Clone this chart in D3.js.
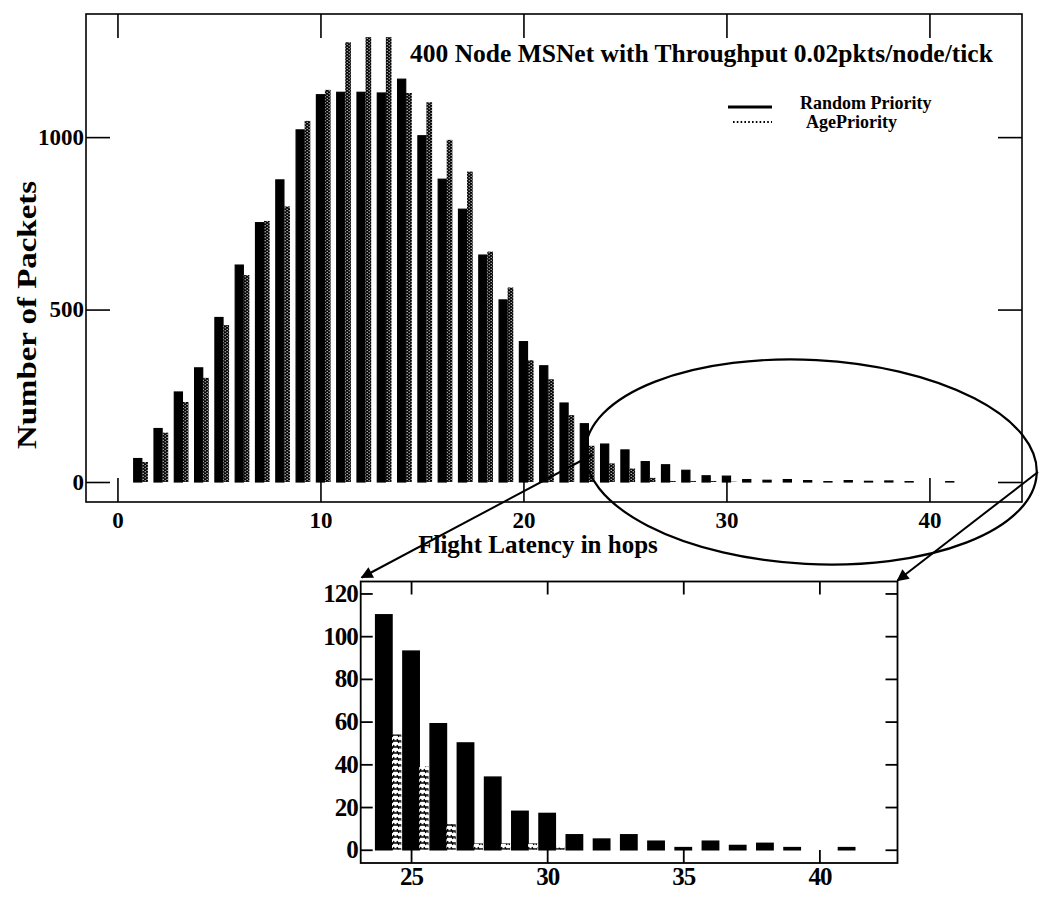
<!DOCTYPE html>
<html>
<head>
<meta charset="utf-8">
<script src="https://cdn.jsdelivr.net/npm/d3@7"></script>
<style>
  body { margin: 0; background: #fff; }
  svg { display: block; }
  text { font-family: "Liberation Serif", "Times New Roman", serif; font-weight: bold; fill: #000; }
</style>
</head>
<body>
<svg id="chart" width="1041" height="902"></svg>
<script>
// flight latency (hops) and packet counts per priority scheme
const hops = [1, 2, 3, 4, 5, 6, 7, 8, 9, 10, 11, 12, 13, 14, 15, 16, 17, 18, 19, 20,
  21, 22, 23, 24, 25, 26, 27, 28, 29, 30, 31, 32, 33, 34, 35, 36, 37, 38, 39, 40, 41];
const randomPriority = [68, 155, 261, 331, 477, 629, 752, 876, 1021, 1123, 1130, 1130, 1128, 1168, 1004, 878, 791, 658, 528, 407,
  337, 229, 169, 110, 93, 59, 50, 34, 18, 17, 7, 5, 7, 4, 1, 4, 2, 3, 1, 0, 1];
const agePriority = [58, 143, 232, 302, 455, 600, 757, 799, 1047, 1137, 1275, 1290, 1290, 1128, 1101, 992, 900, 668, 564, 353,
  298, 194, 105, 54, 39, 12, 3, 3, 3, 1, 0, 0, 0, 0, 0, 0, 0, 0, 0, 0, 0];

const mainXTicks = [0, 10, 20, 30, 40];
const mainYTicks = [0, 500, 1000];
const zoomFrom = 24;
const insetXTicks = [25, 30, 35, 40];
const insetYTicks = [0, 20, 40, 60, 80, 100, 120];

const rows = hops.map((h, i) => ({ hop: h, rnd: randomPriority[i], age: agePriority[i] }));

const svg = d3.select("#chart");

// patterns for the "AgePriority" bars
const defs = svg.append("defs");
const p1 = defs.append("pattern").attr("id", "ageMain")
  .attr("patternUnits", "userSpaceOnUse").attr("width", 4).attr("height", 3);
p1.append("rect").attr("width", 4).attr("height", 3).attr("fill", "#000");
p1.append("rect").attr("x", 0.6).attr("y", 0.3).attr("width", 1.2).attr("height", 1).attr("fill", "#fff");
p1.append("rect").attr("x", 2.6).attr("y", 1.8).attr("width", 1.2).attr("height", 1).attr("fill", "#fff");

const p2 = defs.append("pattern").attr("id", "ageInset")
  .attr("patternUnits", "userSpaceOnUse").attr("width", 9).attr("height", 6);
p2.append("rect").attr("width", 9).attr("height", 6).attr("fill", "#fff");
p2.append("path").attr("d", "M1,1 L3,5 M7,1 L5,5 M0,3 L9,3")
  .attr("stroke", "#000").attr("stroke-width", 1.4).attr("fill", "none");

defs.append("marker").attr("id", "arrow")
  .attr("viewBox", "0 0 10 10").attr("refX", 9).attr("refY", 5)
  .attr("markerWidth", 8).attr("markerHeight", 6).attr("orient", "auto")
  .attr("markerUnits", "strokeWidth")
  .append("path").attr("d", "M0,0 L10,5 L0,10 Z").attr("fill", "#000");

// ---------- main chart ----------
const M = { left: 86, right: 1022, top: 14, bottom: 502 };
const x = d3.scaleLinear().domain([-1.55, 44.56]).range([M.left, M.right]);
const y = d3.scaleLinear().domain([-58, 1357]).range([M.bottom, M.top]);

const main = svg.append("g");

main.selectAll(".rnd").data(rows).enter().append("rect")
  .attr("class", "rnd")
  .attr("x", d => x(d.hop - 0.2))
  .attr("width", x(0.4) - x(0))
  .attr("y", d => y(d.rnd))
  .attr("height", d => y(0) - y(d.rnd))
  .attr("fill", "#000").attr("stroke", "#000").attr("stroke-width", d => d.rnd > 0 ? 1.2 : 0);

main.selectAll(".age").data(rows.filter(d => d.age > 0)).enter().append("rect")
  .attr("class", "age")
  .attr("x", d => x(d.hop + 0.22))
  .attr("width", x(0.28) - x(0))
  .attr("y", d => y(d.age))
  .attr("height", d => y(0) - y(d.age))
  .attr("fill", "url(#ageMain)");

main.append("rect")
  .attr("x", M.left).attr("y", M.top)
  .attr("width", M.right - M.left).attr("height", M.bottom - M.top)
  .attr("fill", "none").attr("stroke", "#000").attr("stroke-width", 1.6);

const axB = main.append("g").attr("transform", `translate(0,${M.bottom})`)
  .call(d3.axisBottom(x).tickValues(mainXTicks).tickSize(-24).tickPadding(10).tickFormat(d3.format("d")));
const axT = main.append("g").attr("transform", `translate(0,${M.top})`)
  .call(d3.axisTop(x).tickValues(mainXTicks).tickSize(-24).tickFormat(""));
const axL = main.append("g").attr("transform", `translate(${M.left},0)`)
  .call(d3.axisLeft(y).tickValues(mainYTicks).tickSize(-24).tickPadding(2).tickFormat(d3.format("d")));
const axR = main.append("g").attr("transform", `translate(${M.right},0)`)
  .call(d3.axisRight(y).tickValues(mainYTicks).tickSize(-24).tickFormat(""));

[axB, axT, axL, axR].forEach(a => {
  a.select(".domain").remove();
  a.selectAll(".tick line").attr("stroke", "#000").attr("stroke-width", 1.6);
  a.selectAll("text").style("font-size", "23px").style("font-family", "Liberation Serif, serif")
    .style("font-weight", "bold").attr("fill", "#000");
});

main.append("text")
  .attr("x", 410).attr("y", 62)
  .style("font-size", "25.5px")
  .text("400 Node MSNet with Throughput 0.02pkts/node/tick");

main.append("text")
  .attr("transform", "translate(36,315) rotate(-90)")
  .attr("text-anchor", "middle")
  .attr("textLength", 268).attr("lengthAdjust", "spacingAndGlyphs")
  .style("font-size", "28px")
  .text("Number of Packets");

main.append("text")
  .attr("x", 538).attr("y", 553)
  .attr("text-anchor", "middle")
  .style("font-size", "25px")
  .text("Flight Latency in hops");

// legend
main.append("line").attr("x1", 728).attr("x2", 772).attr("y1", 107).attr("y2", 107)
  .attr("stroke", "#000").attr("stroke-width", 3);
main.append("line").attr("x1", 733).attr("x2", 772).attr("y1", 122).attr("y2", 122)
  .attr("stroke", "#000").attr("stroke-width", 2).attr("stroke-dasharray", "1.6,2.2");
main.append("text").attr("x", 800).attr("y", 109).style("font-size", "18px").text("Random Priority");
main.append("text").attr("x", 806).attr("y", 128).style("font-size", "18px").text("AgePriority");

// ---------- inset (zoom on the tail) ----------
const I = { left: 360.7, right: 897.5, top: 581.5, bottom: 863 };
const ix = d3.scaleLinear().domain([23.15, 42.87]).range([I.left, I.right]);
const iy = d3.scaleLinear().domain([-6.2, 125.6]).range([I.bottom, I.top]);
const tail = rows.filter(d => d.hop >= zoomFrom);

const inset = svg.append("g");

inset.selectAll(".rnd").data(tail.filter(d => d.rnd > 0)).enter().append("rect")
  .attr("x", d => ix(d.hop - 0.3))
  .attr("width", ix(0.6) - ix(0))
  .attr("y", d => iy(d.rnd))
  .attr("height", d => iy(0) - iy(d.rnd))
  .attr("fill", "#000").attr("stroke", "#000").attr("stroke-width", 1.5);

inset.selectAll(".age").data(tail.filter(d => d.age > 0)).enter().append("rect")
  .attr("x", d => ix(d.hop + 0.3))
  .attr("width", ix(0.34) - ix(0))
  .attr("y", d => iy(d.age))
  .attr("height", d => iy(0) - iy(d.age))
  .attr("fill", "url(#ageInset)");

inset.append("rect")
  .attr("x", I.left).attr("y", I.top)
  .attr("width", I.right - I.left).attr("height", I.bottom - I.top)
  .attr("fill", "none").attr("stroke", "#000").attr("stroke-width", 1.8);

const ibB = inset.append("g").attr("transform", `translate(0,${I.bottom})`)
  .call(d3.axisBottom(ix).tickValues(insetXTicks).tickSize(-13).tickPadding(4));
const ibT = inset.append("g").attr("transform", `translate(0,${I.top})`)
  .call(d3.axisTop(ix).tickValues(insetXTicks).tickSize(-13).tickFormat(""));
const ibL = inset.append("g").attr("transform", `translate(${I.left},0)`)
  .call(d3.axisLeft(iy).tickValues(insetYTicks).tickSize(-12).tickPadding(3));
const ibR = inset.append("g").attr("transform", `translate(${I.right},0)`)
  .call(d3.axisRight(iy).tickValues(insetYTicks).tickSize(-12).tickFormat(""));

[ibB, ibT, ibL, ibR].forEach(a => {
  a.select(".domain").remove();
  a.selectAll(".tick line").attr("stroke", "#000").attr("stroke-width", 1.8);
  a.selectAll("text").style("font-size", "25px").style("font-family", "Liberation Serif, serif")
    .style("font-weight", "bold").style("letter-spacing", "-1px").attr("fill", "#000");
});

// ellipse around the tail and arrows to the inset
svg.append("ellipse")
  .attr("cx", 811).attr("cy", 462).attr("rx", 226).attr("ry", 102)
  .attr("transform", "rotate(3,811,462)")
  .attr("fill", "none").attr("stroke", "#000").attr("stroke-width", 2.2);

svg.append("line").attr("x1", 592).attr("y1", 455).attr("x2", I.left + 1).attr("y2", I.top - 4)
  .attr("stroke", "#000").attr("stroke-width", 2).attr("marker-end", "url(#arrow)");
svg.append("line").attr("x1", 1038).attr("y1", 472).attr("x2", I.right).attr("y2", I.top - 1)
  .attr("stroke", "#000").attr("stroke-width", 2).attr("marker-end", "url(#arrow)");
</script>
</body>
</html>
